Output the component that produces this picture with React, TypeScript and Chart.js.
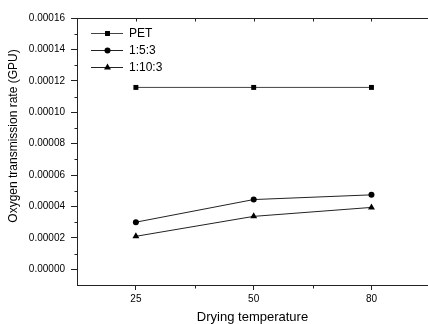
import { useEffect, useRef } from 'react';
import { Chart, registerables } from 'chart.js';

Chart.register(...registerables);

const categories = ['25', '50', '80'];
const seriesNames = ['PET', '1:5:3', '1:10:3'];
const petValues = [0.0001158, 0.0001158, 0.0001158];
const ratio153Values = [0.00003, 0.0000444, 0.0000474];
const ratio1103Values = [0.000021, 0.0000337, 0.0000394];
const yTickValues = [0, 0.00002, 0.00004, 0.00006, 0.00008, 0.0001, 0.00012, 0.00014, 0.00016];
const yMinorValues = [0.00001, 0.00003, 0.00005, 0.00007, 0.00009, 0.00011, 0.00013, 0.00015];
const xMinorValues = [0.5, 1.5];
const xTitle = 'Drying temperature';
const yTitle = 'Oxygen transmission rate (GPU)';

const FONT = "'Liberation Sans', Arial, sans-serif";
const AXIS = '#222';

function drawMarker(ctx: CanvasRenderingContext2D, style: string, x: number, y: number, r: number) {
  ctx.beginPath();
  if (style === 'rect') {
    const s = Math.SQRT1_2 * r;
    ctx.rect(x - s, y - s, 2 * s, 2 * s);
  } else if (style === 'triangle') {
    let rad = 0;
    ctx.moveTo(x + Math.sin(rad) * r, y - Math.cos(rad) * r);
    rad += (2 * Math.PI) / 3;
    ctx.lineTo(x + Math.sin(rad) * r, y - Math.cos(rad) * r);
    rad += (2 * Math.PI) / 3;
    ctx.lineTo(x + Math.sin(rad) * r, y - Math.cos(rad) * r);
    ctx.closePath();
  } else {
    ctx.arc(x, y, r, 0, Math.PI * 2);
  }
  ctx.fill();
}

const framePlugin = {
  id: 'frameTicks',
  afterDraw(chart: any) {
    const { ctx, chartArea, scales } = chart;
    const xs = scales.x;
    const ys = scales.y;
    ctx.save();
    ctx.strokeStyle = AXIS;
    ctx.lineWidth = 1;
    const top = Math.round(chartArea.top) + 0.5;
    ctx.beginPath();
    ctx.moveTo(chartArea.left, top);
    ctx.lineTo(chartArea.right, top);
    ctx.stroke();
    [0, 1, 2, ...xMinorValues].forEach((v) => {
      const px = Math.round(xs.getPixelForValue(v)) + 0.5;
      ctx.beginPath();
      ctx.moveTo(px, top);
      ctx.lineTo(px, top + 3);
      ctx.stroke();
    });
    const bottom = Math.round(chartArea.bottom) + 0.5;
    xMinorValues.forEach((v) => {
      const px = Math.round(xs.getPixelForValue(v)) + 0.5;
      ctx.beginPath();
      ctx.moveTo(px, bottom);
      ctx.lineTo(px, bottom + 3);
      ctx.stroke();
    });
    const left = Math.round(chartArea.left) + 0.5;
    yMinorValues.forEach((v) => {
      const py = Math.round(ys.getPixelForValue(v)) + 0.5;
      ctx.beginPath();
      ctx.moveTo(left, py);
      ctx.lineTo(left - 3, py);
      ctx.stroke();
    });
    // y axis title
    ctx.fillStyle = '#000';
    ctx.font = `12px ${FONT}`;
    ctx.textAlign = 'center';
    ctx.textBaseline = 'middle';
    ctx.translate(13.5, 136);
    ctx.rotate(-Math.PI / 2);
    ctx.fillText(yTitle, 0, 0);
    ctx.restore();
  },
};

const legendPlugin = {
  id: 'lineLegend',
  afterDraw(chart: any) {
    const { ctx } = chart;
    ctx.save();
    ctx.font = `12px ${FONT}`;
    ctx.textBaseline = 'middle';
    ctx.textAlign = 'left';
    chart.data.datasets.forEach((ds: any, i: number) => {
      const y = Math.round(33.3 + i * 16.7);
      ctx.strokeStyle = ds.borderColor;
      ctx.lineWidth = 1;
      ctx.beginPath();
      ctx.moveTo(91, y + 0.5);
      ctx.lineTo(123, y + 0.5);
      ctx.stroke();
      ctx.fillStyle = ds.pointBackgroundColor;
      drawMarker(ctx, ds.pointStyle, 107.5, y + 0.5, ds.pointRadius);
      ctx.fillStyle = '#000';
      ctx.fillText(ds.label, 129, y + 1);
    });
    ctx.restore();
  },
};

const toPoints = (vals: number[]) => vals.map((v, i) => ({ x: i, y: v }));

export default function App() {
  const ref = useRef<HTMLCanvasElement | null>(null);
  useEffect(() => {
    document.body.style.margin = '0';
    if (!ref.current) return;
    const mk = (label: string, vals: number[], style: string, r: number, color: string) => ({
      label,
      data: toPoints(vals),
      borderColor: color,
      borderWidth: 1,
      pointStyle: style,
      pointRadius: r,
      pointBackgroundColor: '#000',
      pointBorderColor: '#000',
      pointBorderWidth: 0,
      fill: false,
      tension: 0,
    });
    const chart = new Chart(ref.current, {
      type: 'line',
      data: {
        datasets: [
          mk(seriesNames[0], petValues, 'rect', 3.5, '#444'),
          mk(seriesNames[1], ratio153Values, 'circle', 3, '#222'),
          mk(seriesNames[2], ratio1103Values, 'triangle', 4, '#222'),
        ],
      },
      options: {
        animation: false,
        responsive: false,
        devicePixelRatio: 1,
        layout: { autoPadding: false, padding: { top: 18, left: 0, right: 0, bottom: 0 } },
        plugins: { legend: { display: false }, tooltip: { enabled: false } },
        scales: {
          x: {
            type: 'linear',
            min: -0.5,
            max: 2.48,
            afterBuildTicks: (s: any) => {
              s.ticks = categories.map((_, i) => ({ value: i }));
            },
            afterFit: (s: any) => {
              s.height = 39;
            },
            ticks: {
              callback: (v: any) => categories[v] ?? '',
              font: { family: FONT, size: 10 },
              color: '#000',
              padding: 3,
              maxRotation: 0,
              autoSkip: false,
            },
            grid: { drawOnChartArea: false, drawTicks: true, tickLength: 5, color: AXIS },
            border: { color: AXIS, width: 1 },
            title: {
              display: true,
              text: xTitle,
              font: { family: FONT, size: 13, lineHeight: 1 },
              color: '#000',
              padding: { top: 0, bottom: 0 },
            },
          },
          y: {
            type: 'linear',
            min: -0.00001,
            max: 0.00016,
            afterBuildTicks: (s: any) => {
              s.ticks = yTickValues.map((v) => ({ value: v }));
            },
            afterFit: (s: any) => {
              s.width = 77;
            },
            ticks: {
              callback: (v: any) => Number(v).toFixed(5),
              font: { family: FONT, size: 10 },
              color: '#000',
              padding: 6,
              autoSkip: false,
            },
            grid: { drawOnChartArea: false, drawTicks: true, tickLength: 6, color: AXIS },
            border: { color: AXIS, width: 1 },
            title: { display: false },
          },
        },
      },
      plugins: [framePlugin, legendPlugin],
    } as any);
    return () => chart.destroy();
  }, []);
  return (
    <div style={{ width: 428, height: 324 }}>
      <canvas ref={ref} width={428} height={324} style={{ display: 'block' }} />
    </div>
  );
}
